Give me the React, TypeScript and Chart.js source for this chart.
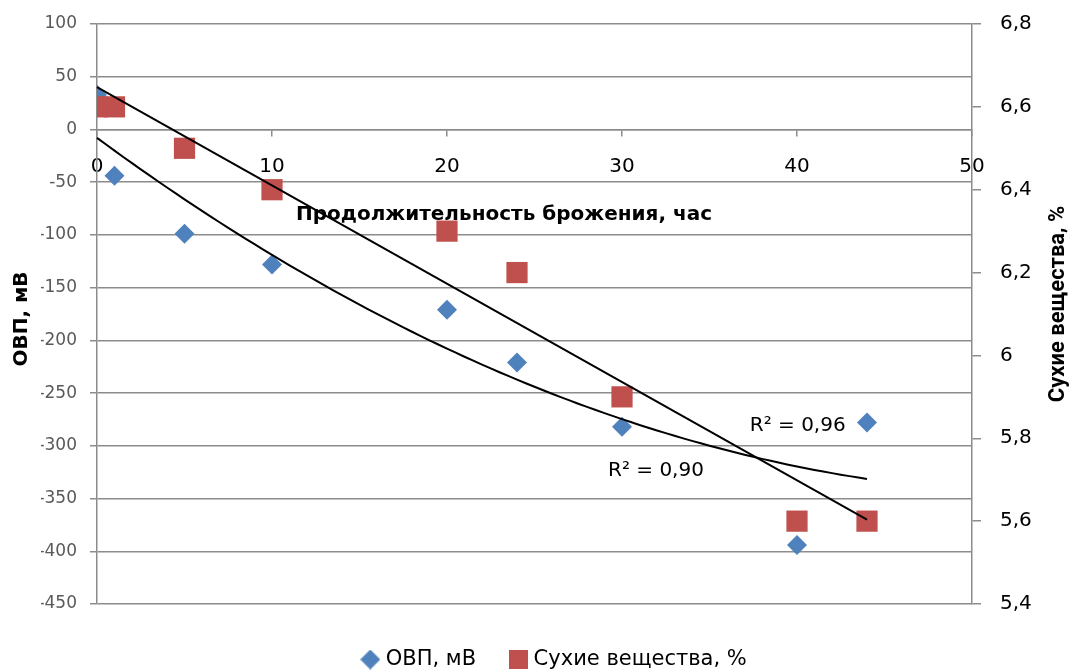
import React, { useEffect, useRef } from 'react';
import { Chart, registerables } from 'chart.js';

Chart.register(...registerables);

// ---- data ----
const hours = [0, 1, 5, 10, 20, 24, 30, 40, 44];
const ovpValues = [33, -44, -99, -128, -171, -221, -282, -394, -278];
const dryMatter = [6.6, 6.6, 6.5, 6.4, 6.3, 6.2, 5.9, 5.6, 5.6];

const seriesNames = ['ОВП, мВ', 'Сухие вещества, %'];
const xTitle = 'Продолжительность брожения, час';
const yLeftTitle = 'ОВП, мВ';
const yRightTitle = 'Сухие вещества, %';

const xRange = [0, 50, 10];
const leftRange = [-450, 100, 50];
const rightRange = [5.4, 6.8, 0.2];

const FONT = 'DejaVu Sans';
const BLUE = '#4F81BD';
const RED = '#C0504D';
const GRID = '#8C8C8C';

function linFit(xs: number[], ys: number[]) {
  const n = xs.length;
  const mx = xs.reduce((a, b) => a + b, 0) / n;
  const my = ys.reduce((a, b) => a + b, 0) / n;
  let sxy = 0, sxx = 0, syy = 0;
  for (let i = 0; i < n; i++) {
    sxy += (xs[i] - mx) * (ys[i] - my);
    sxx += (xs[i] - mx) ** 2;
    syy += (ys[i] - my) ** 2;
  }
  const b = sxy / sxx;
  const a = my - b * mx;
  return { coef: [a, b, 0], r2: (sxy * sxy) / (sxx * syy) };
}

function quadFit(xs: number[], ys: number[]) {
  const n = xs.length;
  const S = [0, 0, 0, 0, 0];
  const T = [0, 0, 0];
  for (let i = 0; i < n; i++) {
    for (let k = 0; k < 5; k++) S[k] += xs[i] ** k;
    for (let k = 0; k < 3; k++) T[k] += ys[i] * xs[i] ** k;
  }
  const M = [
    [S[0], S[1], S[2], T[0]],
    [S[1], S[2], S[3], T[1]],
    [S[2], S[3], S[4], T[2]],
  ];
  for (let c = 0; c < 3; c++) {
    let p = c;
    for (let r = c + 1; r < 3; r++) if (Math.abs(M[r][c]) > Math.abs(M[p][c])) p = r;
    [M[c], M[p]] = [M[p], M[c]];
    for (let r = 0; r < 3; r++) {
      if (r === c) continue;
      const f = M[r][c] / M[c][c];
      for (let k = c; k < 4; k++) M[r][k] -= f * M[c][k];
    }
  }
  const coef = [M[0][3] / M[0][0], M[1][3] / M[1][1], M[2][3] / M[2][2]];
  const my = ys.reduce((a, b) => a + b, 0) / n;
  let ssr = 0, sst = 0;
  for (let i = 0; i < n; i++) {
    const f = coef[0] + coef[1] * xs[i] + coef[2] * xs[i] ** 2;
    ssr += (ys[i] - f) ** 2;
    sst += (ys[i] - my) ** 2;
  }
  return { coef, r2: 1 - ssr / sst };
}

const fmtComma = (v: number) => String(Number(v.toFixed(1))).replace('.', ',');

function makeMarker(kind: 'diamond' | 'square', color: string) {
  const c = document.createElement('canvas');
  const s = kind === 'diamond' ? 20 : 19;
  c.width = s;
  c.height = s;
  const g = c.getContext('2d')!;
  g.fillStyle = color;
  if (kind === 'diamond') {
    g.beginPath();
    g.moveTo(s / 2, 0);
    g.lineTo(s, s / 2);
    g.lineTo(s / 2, s);
    g.lineTo(0, s / 2);
    g.closePath();
    g.fill();
  } else {
    g.fillRect(0, 0, s, s);
  }
  return c;
}

const overlayPlugin = {
  id: 'overlay',
  afterDatasetsDraw(chart: any) {
    const { ctx, scales } = chart;
    const xs = scales.x, yl = scales.y, yr = scales.y1;
    const x0 = Math.min(...hours), x1 = Math.max(...hours);
    const q = quadFit(hours, ovpValues);
    const l = linFit(hours, dryMatter);
    ctx.save();
    ctx.strokeStyle = '#000';
    ctx.lineWidth = 2;
    ctx.beginPath();
    const steps = 88;
    for (let i = 0; i <= steps; i++) {
      const t = x0 + ((x1 - x0) * i) / steps;
      const v = q.coef[0] + q.coef[1] * t + q.coef[2] * t * t;
      const px = xs.getPixelForValue(t), py = yl.getPixelForValue(v);
      if (i === 0) ctx.moveTo(px, py);
      else ctx.lineTo(px, py);
    }
    ctx.stroke();
    ctx.beginPath();
    ctx.moveTo(xs.getPixelForValue(x0), yr.getPixelForValue(l.coef[0] + l.coef[1] * x0));
    ctx.lineTo(xs.getPixelForValue(x1), yr.getPixelForValue(l.coef[0] + l.coef[1] * x1));
    ctx.stroke();

    ctx.fillStyle = '#000';
    ctx.font = `20px "${FONT}"`;
    ctx.textAlign = 'left';
    ctx.textBaseline = 'middle';
    const lbl = (r2: number) => `R² = ${r2.toFixed(2).replace('.', ',')}`;
    ctx.fillText(lbl(l.r2), xs.getPixelForValue(37.3), yl.getPixelForValue(-281));
    ctx.fillText(lbl(q.r2), xs.getPixelForValue(29.2), yl.getPixelForValue(-323.6));
    ctx.restore();
  },
  afterDraw(chart: any) {
    const { ctx, chartArea } = chart;
    ctx.save();
    ctx.fillStyle = '#000';
    ctx.font = `bold 20px "${FONT}"`;
    ctx.textAlign = 'center';
    ctx.textBaseline = 'middle';
    ctx.fillText(xTitle, chartArea.left + 407, 215);
    const midY = (chartArea.top + chartArea.bottom) / 2;
    ctx.translate(22, midY + 5);
    ctx.rotate(-Math.PI / 2);
    ctx.fillText(yLeftTitle, 0, 0);
    ctx.restore();
    ctx.save();
    ctx.fillStyle = '#000';
    ctx.font = 'bold 22px Roboto';
    ctx.textAlign = 'center';
    ctx.textBaseline = 'middle';
    ctx.translate(1058, 304);
    ctx.rotate(-Math.PI / 2);
    ctx.fillText(yRightTitle, 0, 0);
    ctx.restore();
  },
};

const noPad = (s: any) => {
  s.paddingTop = 0;
  s.paddingBottom = 0;
};

export default function App() {
  const ref = useRef<HTMLCanvasElement>(null);
  useEffect(() => {
    if (!ref.current) return;
    Chart.defaults.font.family = FONT;
    const markers = [makeMarker('diamond', BLUE), makeMarker('square', RED)];
    const chart = new Chart(ref.current, {
      type: 'scatter',
      data: {
        datasets: [
          {
            label: seriesNames[0],
            data: hours.map((h, i) => ({ x: h, y: ovpValues[i] })),
            yAxisID: 'y',
            pointStyle: 'rectRot',
            pointRadius: 10,
            pointBackgroundColor: BLUE,
            pointBorderColor: BLUE,
            pointBorderWidth: 0,
            backgroundColor: BLUE,
            borderColor: BLUE,
            order: 2,
          },
          {
            label: seriesNames[1],
            data: hours.map((h, i) => ({ x: h, y: dryMatter[i] })),
            yAxisID: 'y1',
            pointStyle: 'rect',
            pointRadius: 15,
            pointBackgroundColor: RED,
            pointBorderColor: RED,
            pointBorderWidth: 0,
            backgroundColor: RED,
            borderColor: RED,
            order: 1,
          },
        ],
      },
      options: {
        responsive: false,
        animation: false,
        layout: { padding: { left: 41, right: 0, top: 24, bottom: -10 } },
        scales: {
          x: {
            type: 'linear',
            position: { y: 0 } as any,
            min: xRange[0],
            max: xRange[1],
            ticks: { stepSize: xRange[2], color: '#000', font: { size: 20 }, padding: 19 },
            grid: { drawOnChartArea: false, tickLength: 6, color: GRID, lineWidth: 1.5 },
            border: { color: GRID, width: 1.5 },
            afterFit: (s: any) => { s.paddingLeft = 0; s.paddingRight = 0; },
          },
          y: {
            type: 'linear',
            position: 'left',
            min: leftRange[0],
            max: leftRange[1],
            ticks: { stepSize: leftRange[2], color: '#595959', font: { size: 17 }, padding: 13 },
            grid: { color: GRID, lineWidth: 1.5, tickLength: 7 },
            border: { color: GRID, width: 1.5 },
            afterFit: (s: any) => { s.width = 56; noPad(s); },
          },
          y1: {
            type: 'linear',
            position: 'right',
            min: rightRange[0],
            max: rightRange[1],
            ticks: {
              stepSize: rightRange[2],
              color: '#000',
              font: { size: 20 },
              padding: 19,
              callback: (v: any) => fmtComma(Number(v)),
            },
            grid: { drawOnChartArea: false, tickLength: 9, color: GRID, lineWidth: 1.5 },
            border: { color: GRID, width: 1.5 },
            afterFit: (s: any) => { s.width = 99; noPad(s); },
          },
        },
        plugins: {
          tooltip: { enabled: false },
          legend: {
            position: 'bottom',
            align: 'center',
            title: { display: true, text: '', font: { size: 8, lineHeight: 1 }, padding: 0 },
            labels: {
              usePointStyle: true,
              pointStyleWidth: 10,
              padding: 37,
              color: '#000',
              font: { size: 21 },
              generateLabels: (ch: any) => {
                const items = Chart.defaults.plugins.legend.labels.generateLabels(ch);
                return items
                  .map((it: any) => ({ ...it, pointStyle: markers[it.datasetIndex], lineWidth: 0 }))
                  .sort((a: any, b: any) => a.datasetIndex - b.datasetIndex);
              },
            },
          },
        },
      },
      plugins: [overlayPlugin],
    });
    return () => chart.destroy();
  }, []);
  return (
    <div style={{ position: 'absolute', left: 0, top: 0, width: 1071, height: 670, background: '#fff' }}>
      <canvas ref={ref} width={1071} height={670} style={{ display: 'block' }} />
    </div>
  );
}
